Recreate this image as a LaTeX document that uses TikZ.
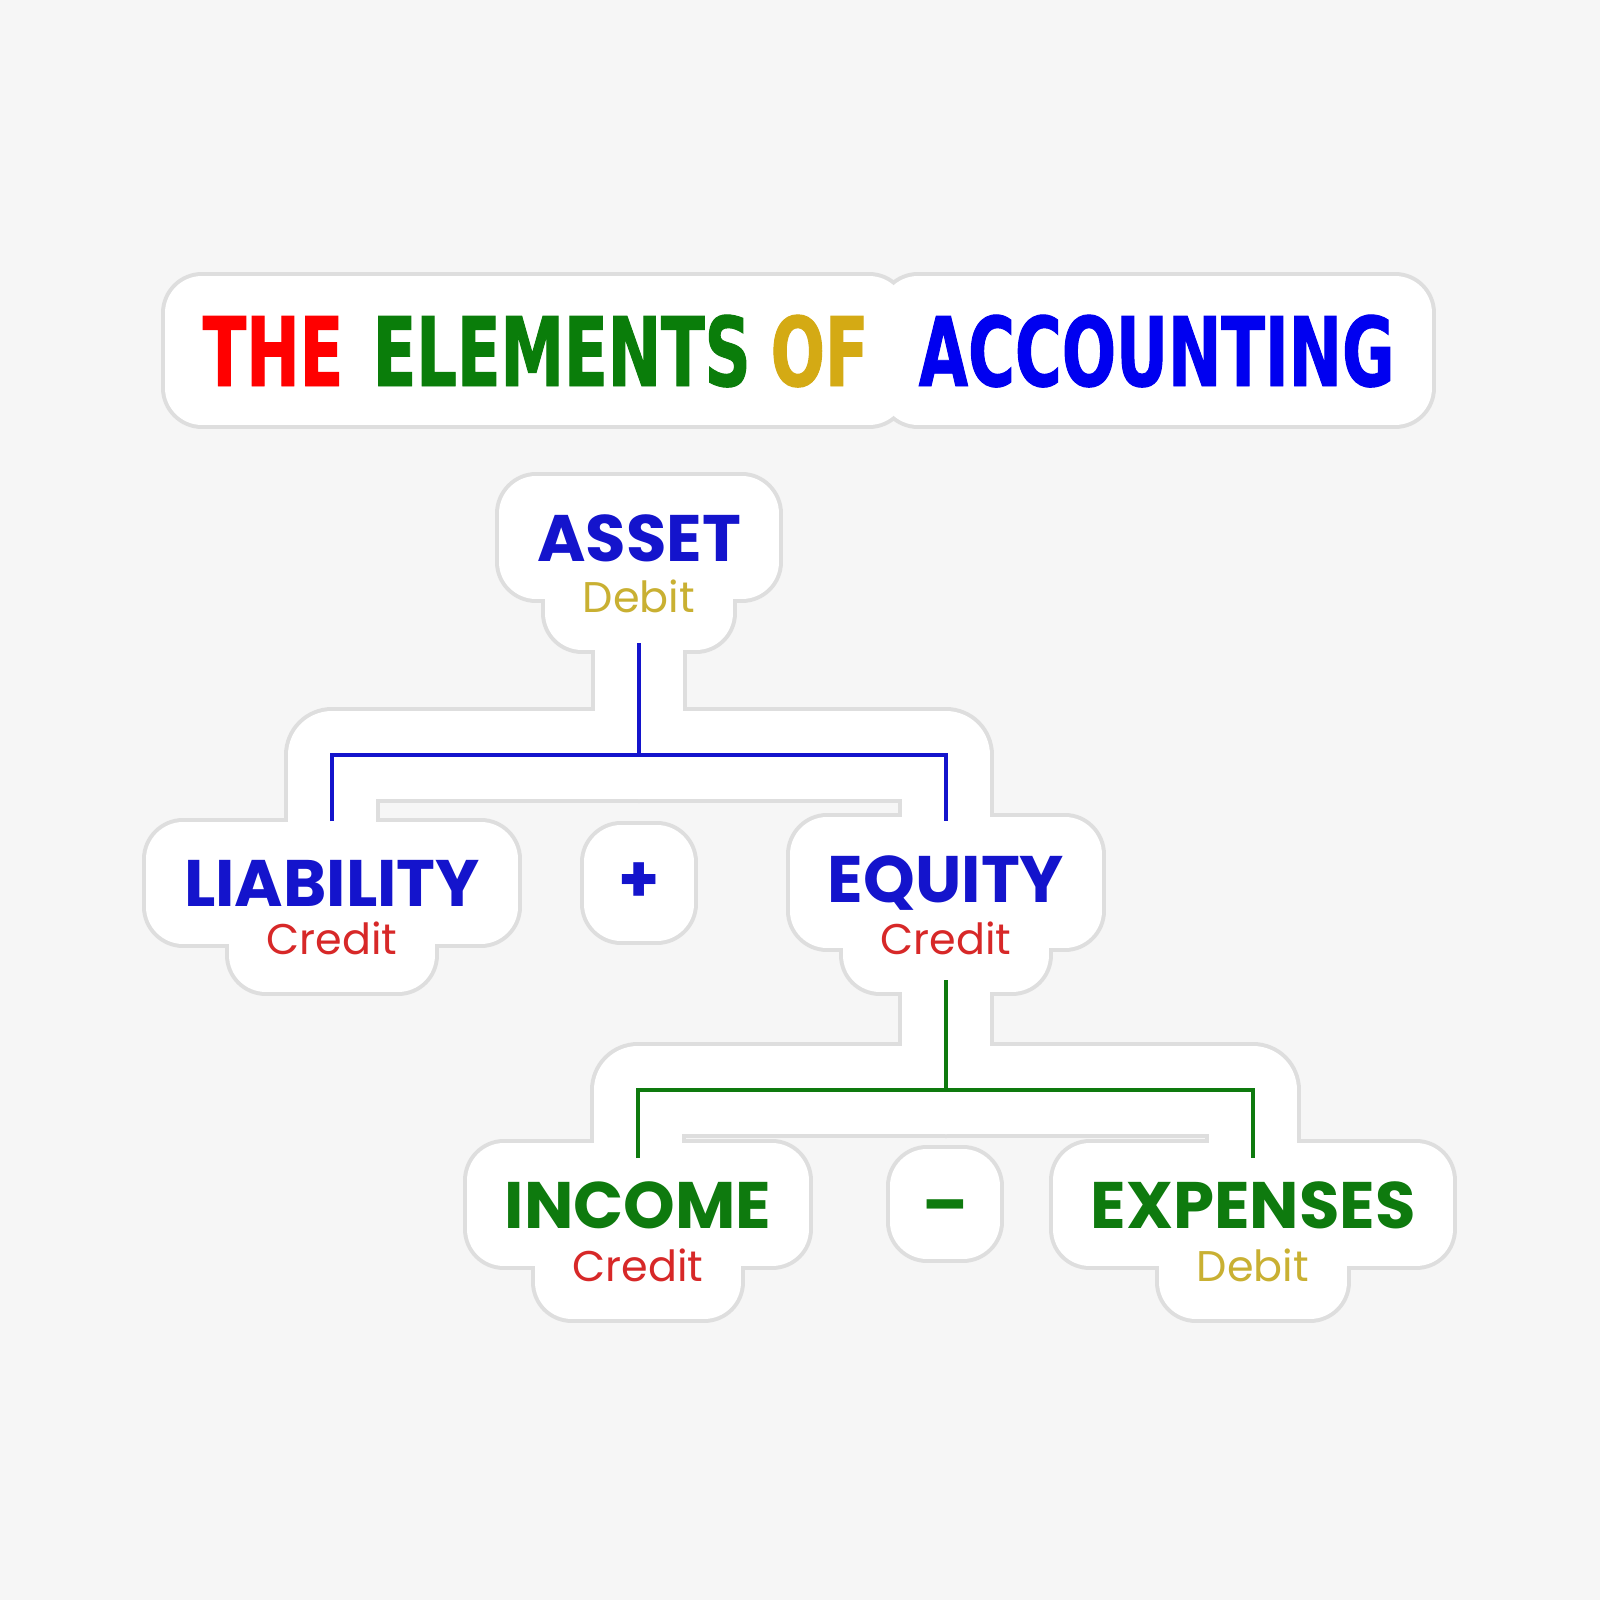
\documentclass[tikz,border=0pt]{standalone}
\usepackage{fontspec}
\setmainfont{Poppins}
\newfontfamily\titlefont[FakeStretch=0.665, FakeBold=1]{DejaVu Sans Bold}

\definecolor{bggrey}{HTML}{F6F6F6}
\definecolor{cutgrey}{HTML}{DEDEDE}
\definecolor{thered}{HTML}{FF0000}
\definecolor{elgreen}{HTML}{0A7D0A}
\definecolor{ofgold}{HTML}{D4AA14}
\definecolor{accblue}{HTML}{0000F0}
\definecolor{nodeblue}{HTML}{1414CC}
\definecolor{nodegreen}{HTML}{0E7A0E}
\definecolor{crred}{HTML}{D72828}
\definecolor{drgold}{HTML}{C9B032}

\pgfdeclarelayer{outline}
\pgfdeclarelayer{paper}
\pgfsetlayers{outline,paper,main}

% sticker shape: text boxes plus the bands under the connectors
\newcommand\stickerpaths[1]{%
  \path[#1=0.74cm, fill] (tthe.south west) rectangle (tof.north east);
  \path[#1=0.74cm, fill] (tacc.south west) rectangle (tacc.north east);
  \foreach \n in {asset,assetsub,liab,liabsub,plus,equity,equitysub,
                  income,incomesub,minus,expense,expensesub}
    \path[#1=0.74cm, fill] (\n.south west) rectangle (\n.north east);
  \path[#1=0.88cm] (assetsub.south) -- (bbar) (bl) |- (bbar) -| (br);
  \path[#1=0.88cm] (equitysub.south) -- (gbar) (gl) |- (gbar) -| (gr);
}

\begin{document}
\begin{tikzpicture}[
x=0.01cm, y=-0.01cm,
title/.style={font=\titlefont\fontsize{27.3pt}{30pt}\selectfont, inner sep=0pt, anchor=base west,
  text height=0.72cm, text depth=0.01cm},
word/.style={font=\bfseries\fontsize{18.7pt}{20pt}\selectfont, inner sep=0pt, anchor=base},
sub/.style={font=\fontsize{12.2pt}{14pt}\selectfont, inner sep=0pt, anchor=base},
opsign/.style={word, anchor=center, minimum size=0.34cm},
cutline/.style={color=cutgrey, draw, line join=round, line cap=round, line width=#1+0.08cm},
sheet/.style={color=white, draw, line join=round, line cap=round, line width=#1},
bluelink/.style={draw=nodeblue, line width=0.04cm},
greenlink/.style={draw=nodegreen, line width=0.04cm}
]
  % title
  \node[title, text=thered] (tthe) at (202,386) {THE};
  \node[title, text=elgreen] (telem) at (372,386) {ELEMENTS};
  \node[title, text=ofgold] (tof) at (770,386) {OF};
  \node[title, text=accblue] (tacc) at (918,386) {ACCOUNTING};

  % elements
  \node[word, text=nodeblue] (asset) at (639,561) {ASSET};
  \node[sub, text=drgold] (assetsub) at (639,612) {Debit};
  \node[word, text=nodeblue] (liab) at (332,906) {LIABILITY};
  \node[sub, text=crred] (liabsub) at (332,954) {Credit};
  \node[opsign, text=nodeblue] (plus) at (639,883) {\makebox[0pt]{+}};
  \node[word, text=nodeblue] (equity) at (946,902) {EQUITY};
  \node[sub, text=crred] (equitysub) at (946,954) {Credit};
  \node[word, text=nodegreen] (income) at (638,1228) {INCOME};
  \node[sub, text=crred] (incomesub) at (638,1281) {Credit};
  \node[opsign, text=nodegreen] (minus) at (945,1204) {\makebox[0pt]{\raisebox{-0.23cm}[0pt][0pt]{–}}};
  \node[word, text=nodegreen] (expense) at (1253,1228) {EXPENSES};
  \node[sub, text=drgold] (expensesub) at (1253,1281) {Debit};

  \coordinate (bt) at (639,643);
  \coordinate (bbar) at (639,755);
  \coordinate (bl) at (332,821);
  \coordinate (br) at (946,821);
  \coordinate (gt) at (946,980);
  \coordinate (gbar) at (946,1090);
  \coordinate (gl) at (638,1158);
  \coordinate (gr) at (1253,1158);

  \draw[bluelink] (bt) -- (bbar);
  \draw[bluelink] (bl) |- (bbar) -| (br);
  \draw[greenlink] (gt) -- (gbar);
  \draw[greenlink] (gl) |- (gbar) -| (gr);

  \begin{pgfonlayer}{outline}
    \fill[bggrey] (0,0) rectangle (1600,1600);
    \stickerpaths{cutline}
  \end{pgfonlayer}
  \begin{pgfonlayer}{paper}
    \stickerpaths{sheet}
  \end{pgfonlayer}
\end{tikzpicture}
\end{document}
